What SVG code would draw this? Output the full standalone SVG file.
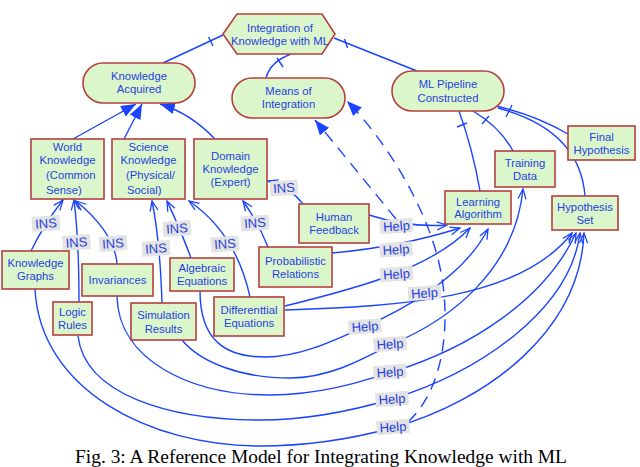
<svg xmlns="http://www.w3.org/2000/svg" width="640" height="467" viewBox="0 0 640 467">
<defs>
<style>
.n rect, .n path {fill:#dcf6cb; stroke:#b4403c; stroke-width:1.6}
.t {font-family:"Liberation Sans", Arial, sans-serif; font-size:11.3px; fill:#1f3fe0; text-anchor:middle}
.ts {font-family:"Liberation Sans", Arial, sans-serif; font-size:11.3px; fill:#1f3fe0; text-anchor:start}
.c {fill:none; stroke:#1a44ff; stroke-width:1.4}
.d {stroke-dasharray:12 8}
.lb rect {fill:#e3e3e3}
.lb text {font-family:"Liberation Sans", Arial, sans-serif; font-size:13px; fill:#1f3fe0; text-anchor:middle}
.cap {font-family:"Liberation Serif", "Times New Roman", serif; font-size:19px; fill:#000}
</style>
<marker id="open" markerUnits="userSpaceOnUse" markerWidth="12" markerHeight="10" viewBox="0 0 12 10" refX="11" refY="5" orient="auto">
<path d="M1,1 L11,5 L1,9" fill="none" stroke="#1a44ff" stroke-width="1.3"/>
</marker>
<marker id="tri" markerUnits="userSpaceOnUse" markerWidth="15" markerHeight="12" viewBox="0 0 15 12" refX="15" refY="6" orient="auto">
<path d="M0,0 L15,6 L0,12 Z" fill="#1a44ff"/>
</marker>
</defs>
<rect width="640" height="467" fill="#ffffff"/>

<g id="connectors">
<path class="c" d="M223,35 L163,63"/>
<path class="c" d="M208.5,37 L213,46"/>
<path class="c" d="M291,54 Q270,62 266,78"/>
<path class="c" d="M277,58 L283,67"/>
<path class="c" d="M334,38 L417,71"/>
<path class="c" d="M344.5,39 L347.5,48"/>
<path class="c" d="M459,111 Q473,150 480,191"/>
<path class="c" d="M457,127 L467,123"/>
<path class="c" d="M473,111 Q500,127 513,151"/>
<path class="c" d="M482,124 L489,116"/>
<path class="c" d="M496,106 Q535,115 568,134"/>
<path class="c" d="M506,117 L512,105"/>
<path class="c" d="M498,108 Q580,130 585,196"/>

<path class="c" d="M73,139 L136,104" marker-end="url(#tri)"/>
<path class="c" d="M124,139 L142,104" marker-end="url(#tri)"/>
<path class="c" d="M215,139 Q190,113 160,104" marker-end="url(#tri)"/>

<path class="c d" d="M396,219 Q352,165 315,120" marker-end="url(#tri)"/>
<path class="c d" d="M408,422 C448,385 452,310 437,255 C422,200 385,140 347,101" marker-end="url(#tri)"/>

<path class="c" d="M31,251 Q44,224 63,200" marker-end="url(#open)"/>
<path class="c" d="M79,302 Q79,240 74,200" marker-end="url(#open)"/>
<path class="c" d="M117,264 Q115,233 76,201" marker-end="url(#open)"/>
<path class="c" d="M162,303 Q160,240 152,201" marker-end="url(#open)"/>
<path class="c" d="M191,258 Q180,228 167,201" marker-end="url(#open)"/>
<path class="c" d="M250,297 Q236,233 189,201" marker-end="url(#open)"/>
<path class="c" d="M268,247 Q258,222 243,201" marker-end="url(#open)"/>
<path class="c" d="M303,204 Q290,187 268,181" marker-end="url(#open)"/>

<path class="c" d="M369,215 Q410,228 447,225" marker-end="url(#open)"/>
<path class="c" d="M332,253 Q400,247 460,228" marker-end="url(#open)"/>
<path class="c" d="M285,306 C350,290 430,270 470,228" marker-end="url(#open)"/>
<path class="c" d="M200,291 C200,340 225,357 265,357 C300,357 335,340 364,327 C400,311 462,280 488,229" marker-end="url(#open)"/>
<path class="c" d="M182,340 C200,362 240,378 290,378 C330,378 365,358 392,344 C450,320 515,270 523,189" marker-end="url(#open)"/>
<path class="c" d="M117,296 C118,360 190,395 270,395 C320,395 360,382 392,372 C470,348 545,300 576,233" marker-end="url(#open)"/>
<path class="c" d="M78,336 C85,395 170,420 260,420 C310,420 355,410 392,399 C480,372 570,310 580,233" marker-end="url(#open)"/>
<path class="c" d="M35,289 C40,390 150,446 260,446 C310,446 355,438 392,428 C490,400 580,330 584,233" marker-end="url(#open)"/>
<path class="c" d="M285,310 C400,306 520,300 572,233" marker-end="url(#open)"/>
</g>

<g id="labels">
<g class="lb" transform="translate(46,223.5) rotate(-4)"><rect x="-14" y="-7.5" width="28" height="15"/><text y="4.5">INS</text></g>
<g class="lb" transform="translate(76.5,242.5) rotate(-4)"><rect x="-14" y="-7.5" width="28" height="15"/><text y="4.5">INS</text></g>
<g class="lb" transform="translate(113,243.5) rotate(-4)"><rect x="-14" y="-7.5" width="28" height="15"/><text y="4.5">INS</text></g>
<g class="lb" transform="translate(156,248.5) rotate(-4)"><rect x="-14" y="-7.5" width="28" height="15"/><text y="4.5">INS</text></g>
<g class="lb" transform="translate(177,228.5) rotate(-4)"><rect x="-14" y="-7.5" width="28" height="15"/><text y="4.5">INS</text></g>
<g class="lb" transform="translate(225,244) rotate(-4)"><rect x="-14" y="-7.5" width="28" height="15"/><text y="4.5">INS</text></g>
<g class="lb" transform="translate(255,223) rotate(-4)"><rect x="-14" y="-7.5" width="28" height="15"/><text y="4.5">INS</text></g>
<g class="lb" transform="translate(284,188) rotate(-4)"><rect x="-14" y="-7.5" width="28" height="15"/><text y="4.5">INS</text></g>

<g class="lb" transform="translate(396.5,226) rotate(-4)"><rect x="-16.5" y="-7" width="33" height="14"/><text y="4.6">Help</text></g>
<g class="lb" transform="translate(396,249.5) rotate(-4)"><rect x="-16.5" y="-7" width="33" height="14"/><text y="4.6">Help</text></g>
<g class="lb" transform="translate(396.5,274) rotate(-4)"><rect x="-16.5" y="-7" width="33" height="14"/><text y="4.6">Help</text></g>
<g class="lb" transform="translate(424.5,293) rotate(-4)"><rect x="-16.5" y="-7" width="33" height="14"/><text y="4.6">Help</text></g>
<g class="lb" transform="translate(365,326.5) rotate(-4)"><rect x="-16.5" y="-7" width="33" height="14"/><text y="4.6">Help</text></g>
<g class="lb" transform="translate(390,344) rotate(-4)"><rect x="-16.5" y="-7" width="33" height="14"/><text y="4.6">Help</text></g>
<g class="lb" transform="translate(390,372) rotate(-4)"><rect x="-16.5" y="-7" width="33" height="14"/><text y="4.6">Help</text></g>
<g class="lb" transform="translate(392,399) rotate(-4)"><rect x="-16.5" y="-7" width="33" height="14"/><text y="4.6">Help</text></g>
<g class="lb" transform="translate(393,427) rotate(-4)"><rect x="-16.5" y="-7" width="33" height="14"/><text y="4.6">Help</text></g>
</g>

<g id="n-integration" class="n"><path d="M223,34 L237,14 L322,14 L335,34 L322,54 L237,54 Z"/><text class="t" x="280" y="31.5">Integration of</text><text class="t" x="280" y="45">Knowledge with ML</text></g>
<g id="n-knowledge-acquired" class="n"><rect x="83" y="63" width="112" height="40" rx="20"/><text class="t" x="139" y="80">Knowledge</text><text class="t" x="139" y="93">Acquired</text></g>
<g id="n-means" class="n"><rect x="232" y="78" width="113" height="40" rx="20"/><text class="t" x="288.5" y="95">Means of</text><text class="t" x="288.5" y="108">Integration</text></g>
<g id="n-pipeline" class="n"><rect x="392" y="71" width="112" height="40" rx="20"/><text class="t" x="448" y="88">ML Pipeline</text><text class="t" x="448" y="102">Constructed</text></g>

<g id="n-world" class="n"><rect x="31" y="139" width="73" height="60"/><text class="t" x="67.5" y="151">World</text><text class="t" x="67.5" y="164">Knowledge</text><text class="ts" x="46" y="179">(Common</text><text class="ts" x="46" y="194">Sense)</text></g>
<g id="n-science" class="n"><rect x="112" y="139" width="73" height="60"/><text class="t" x="148.5" y="151">Science</text><text class="t" x="148.5" y="164">Knowledge</text><text class="ts" x="126" y="179">(Physical/</text><text class="ts" x="127" y="194">Social)</text></g>
<g id="n-domain" class="n"><rect x="194" y="139" width="73" height="60"/><text class="t" x="230.5" y="160">Domain</text><text class="t" x="230.5" y="173">Knowledge</text><text class="t" x="230.5" y="186">(Expert)</text></g>

<g id="n-human" class="n"><rect x="299" y="204" width="70" height="39"/><text class="t" x="334" y="221">Human</text><text class="t" x="334" y="234">Feedback</text></g>
<g id="n-learning" class="n"><rect x="445" y="191" width="66" height="33"/><text class="t" x="478" y="206">Learning</text><text class="t" x="478" y="218">Algorithm</text></g>
<g id="n-training" class="n"><rect x="495" y="151" width="60" height="36"/><text class="t" x="525" y="167">Training</text><text class="t" x="525" y="180">Data</text></g>
<g id="n-final" class="n"><rect x="568" y="126" width="67" height="34"/><text class="t" x="601.5" y="141">Final</text><text class="t" x="601.5" y="154">Hypothesis</text></g>
<g id="n-hypset" class="n"><rect x="552" y="196" width="66" height="34"/><text class="t" x="585" y="211">Hypothesis</text><text class="t" x="585" y="224">Set</text></g>

<g id="n-kgraphs" class="n"><rect x="2" y="251" width="67" height="38"/><text class="t" x="35.5" y="267">Knowledge</text><text class="t" x="35.5" y="280">Graphs</text></g>
<g id="n-invariances" class="n"><rect x="82" y="264" width="71" height="32"/><text class="t" x="117.5" y="284">Invariances</text></g>
<g id="n-algebraic" class="n"><rect x="170" y="258" width="64" height="33"/><text class="t" x="202" y="272">Algebraic</text><text class="t" x="202" y="285">Equations</text></g>
<g id="n-prob" class="n"><rect x="259" y="247" width="73" height="40"/><text class="t" x="295.5" y="265">Probabilistic</text><text class="t" x="295.5" y="278">Relations</text></g>
<g id="n-logic" class="n"><rect x="53" y="302" width="39" height="33"/><text class="t" x="72.5" y="316">Logic</text><text class="t" x="72.5" y="329">Rules</text></g>
<g id="n-simulation" class="n"><rect x="131" y="303" width="65" height="37"/><text class="t" x="163.5" y="319">Simulation</text><text class="t" x="163.5" y="333">Results</text></g>
<g id="n-differential" class="n"><rect x="214" y="297" width="70" height="39"/><text class="t" x="249" y="314">Differenttial</text><text class="t" x="249" y="327">Equations</text></g>

<text class="cap" x="75" y="462.5" textLength="492" lengthAdjust="spacingAndGlyphs">Fig. 3: A Reference Model for Integrating Knowledge with ML</text>
</svg>
